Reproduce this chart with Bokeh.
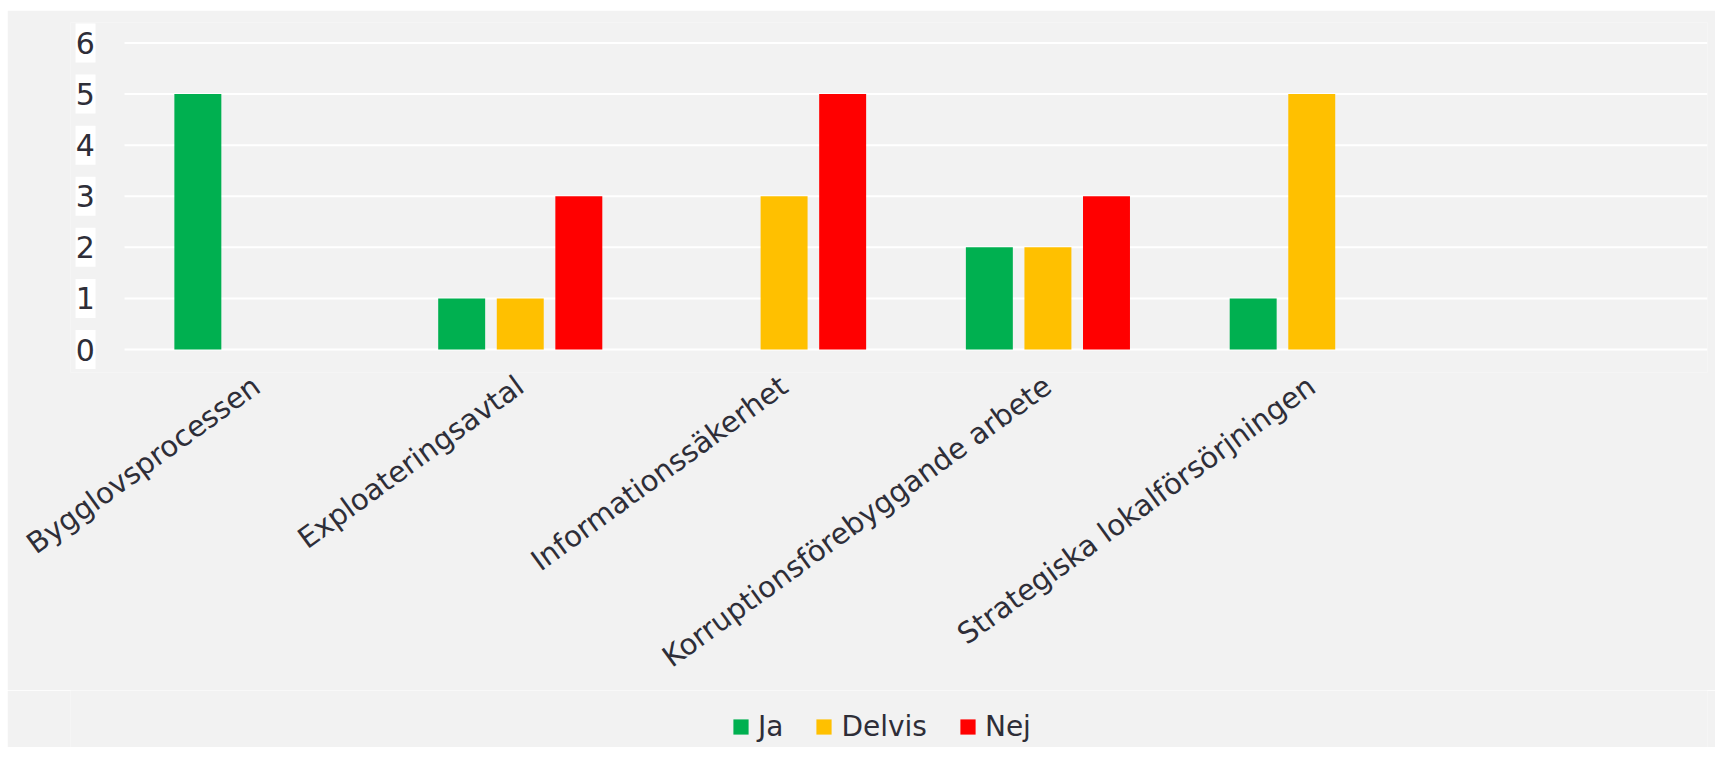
from bokeh.plotting import figure
from bokeh.models import ColumnDataSource, Range1d, FixedTicker
from bokeh.layouts import column
from bokeh.core.properties import value
from bokeh.embed import file_html
from bokeh.resources import INLINE
import numpy as np
import math

categories = ["Bygglovsprocessen", "Exploateringsavtal", "Informationssäkerhet",
              "Korruptionsförebyggande arbete", "Strategiska lokalförsörjningen"]
ja = [5, 1, 0, 2, 1]
delvis = [0, 1, 3, 2, 5]
nej = [0, 3, 5, 3, 0]
series = ["Ja", "Delvis", "Nej"]
colors = ["#00b050", "#ffc000", "#ff0000"]
y_ticks = [0, 1, 2, 3, 4, 5, 6]

TEXT = "#2e2e38"
BG = "#f2f2f2"
FONT = "DejaVu Sans"
W = 1708
N_SLOTS = 6          # category slots on the axis (last one empty)
BAR_W = 0.178
PITCH = 0.222

idx = np.arange(len(categories))
data = dict(Ja=ja, Delvis=delvis, Nej=nej)
offsets = [-PITCH, 0.0, PITCH]
sources = [ColumnDataSource(dict(x=idx + off, top=data[name]))
           for name, off in zip(series, offsets)]

x_end = N_SLOTS - 0.5
p = figure(x_range=Range1d(-0.7047, x_end), y_range=Range1d(-0.45, 6.4),
           width=W, height=680, output_backend="svg", toolbar_location=None,
           min_border_left=63, min_border_right=8, min_border_top=12, min_border_bottom=308)

p.background_fill_color = BG
p.border_fill_color = BG
p.outline_line_color = None
p.grid.visible = False
p.yaxis.visible = False

# horizontal gridlines over the category area only
gsrc = ColumnDataSource(dict(y=y_ticks))
p.segment(x0=-0.5, x1=x_end, y0="y", y1="y", source=gsrc, line_color="white", line_width=2)

for src, col in zip(sources, colors):
    p.vbar(x="x", top="top", width=BAR_W, bottom=0, source=src,
           fill_color=col, line_color=None)

# y tick labels with white boxes
ysrc = ColumnDataSource(dict(y=y_ticks, t=[str(v) for v in y_ticks]))
p.rect(x=-0.6478, y="y", width=20, height=39, width_units="screen", height_units="screen",
       source=ysrc, fill_color="white", line_color=None)
p.text(x=-0.612, y="y", text="t", source=ysrc, text_align="right", text_baseline="middle",
       text_font=value(FONT), text_font_size=value("30px"), text_color=TEXT)

ax = p.xaxis[0]
ax.ticker = FixedTicker(ticks=list(idx))
ax.major_label_overrides = {int(i): c for i, c in zip(idx, categories)}
ax.axis_line_color = None
ax.major_tick_line_color = None
ax.minor_tick_line_color = None
ax.major_label_text_color = TEXT
ax.major_label_text_font = FONT
ax.major_label_text_font_size = "29px"
ax.major_label_orientation = math.radians(36)
ax.major_label_standoff = 4

# legend strip
p2 = figure(width=W, height=57, output_backend="svg", toolbar_location=None,
            x_range=Range1d(0, 1), y_range=Range1d(100, 101),
            min_border=0, min_border_left=0, min_border_right=0,
            min_border_top=0, min_border_bottom=0)
p2.axis.visible = False
p2.grid.visible = False
p2.background_fill_color = BG
p2.border_fill_color = BG
p2.outline_line_color = None
for name, src, col in zip(series, sources, colors):
    p2.vbar(x="x", top="top", width=BAR_W, source=src, fill_color=col,
            line_color=None, legend_label=name)

lg = p2.legend[0]
lg.orientation = "horizontal"
lg.location = (661, 4)
lg.background_fill_alpha = 0
lg.border_line_color = None
lg.padding = 0
lg.margin = 0
lg.spacing = 31
lg.label_standoff = 8
lg.glyph_width = 19
lg.glyph_height = 19
lg.label_text_font = FONT
lg.label_text_font_size = "28px"
lg.label_text_color = TEXT

layout = column(p, p2, spacing=0, margin=(10, 0, 0, 7))
open("out.html", "w").write(file_html(layout, INLINE))
